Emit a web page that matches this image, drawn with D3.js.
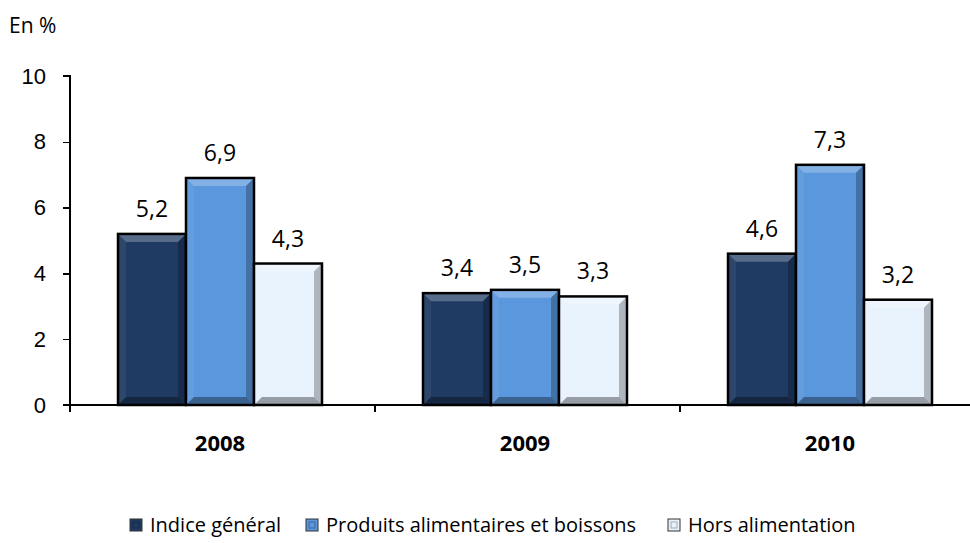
<!DOCTYPE html>
<html>
<head>
<meta charset="utf-8">
<style>
body{margin:0;background:#fff;font-family:"Open Sans","Liberation Sans",sans-serif;}
.axis path,.axis line{fill:none;stroke:#000;stroke-width:1.3;shape-rendering:crispEdges;}
.axis text{font-size:22px;fill:#000;}
.lbl{font-size:23px;fill:#000;}
.unit{font-size:21px;fill:#000;}
.cat{font-size:22.5px;font-weight:bold;fill:#000;}
.leg{font-size:20px;fill:#000;}
</style>
</head>
<body>
<svg id="chart"></svg>
<script src="https://cdn.jsdelivr.net/npm/d3@7"></script>
<script>
var years = ["2008", "2009", "2010"];
var seriesNames = ["Indice général", "Produits alimentaires et boissons", "Hors alimentation"];
var indiceGeneral = [5.2, 3.4, 4.6];
var produitsAlim = [6.9, 3.5, 7.3];
var horsAlim = [4.3, 3.3, 3.2];
var yTicks = [0, 2, 4, 6, 8, 10];
var colors = ["#1f3b63", "#5b97dc", "#e8f2fd"];

var W = 970, H = 543;
var margin = {top: 76, right: 0, bottom: 138, left: 70};
var width = W - margin.left - margin.right;
var height = H - margin.top - margin.bottom;

var svg = d3.select("#chart").attr("width", W).attr("height", H);
var g = svg.append("g").attr("transform", "translate(" + margin.left + "," + margin.top + ")");

var x0 = d3.scaleBand().domain(years).range([0, 915]).paddingInner(0).paddingOuter(0);
var x1 = d3.scaleBand().domain(d3.range(3)).range([48, 252]).padding(0);
var y = d3.scaleLinear().domain([0, 10]).range([height, 0]);

var series = [indiceGeneral, produitsAlim, horsAlim];
var rows = [];
years.forEach(function(yr, i){
  series.forEach(function(s, j){ rows.push({year: yr, s: j, v: s[i]}); });
});

// y axis
g.append("g").attr("class", "axis")
  .call(d3.axisLeft(y).tickValues(yTicks).tickSize(7).tickPadding(17).tickFormat(d3.format("d")))
  .call(function(a){ a.select(".domain").attr("d", "M-7,0H0V" + height); });

svg.append("text").attr("class", "unit").attr("x", 9).attr("y", 33).text("En %");

// bars with bevel
var bev = 8;
var bars = g.selectAll(".bar").data(rows).enter().append("g")
  .attr("transform", function(d){ return "translate(" + (x0(d.year) + x1(d.s)) + "," + y(d.v) + ")"; });

bars.each(function(d){
  var sel = d3.select(this);
  var w = x1.bandwidth(), h = y(0) - y(d.v);
  sel.append("rect").attr("width", w).attr("height", h).attr("fill", colors[d.s]);
  var b = Math.min(bev, h / 2);
  var shades = [
    {p: [[0,0],[w,0],[w-b,b],[b,b]], c: "#fff", o: 0.25},
    {p: [[0,0],[b,b],[b,h-b],[0,h]], c: "#fff", o: 0.06},
    {p: [[w,0],[w,h],[w-b,h-b],[w-b,b]], c: "#000", o: 0.25},
    {p: [[0,h],[b,h-b],[w-b,h-b],[w,h]], c: "#000", o: 0.35}
  ];
  shades.forEach(function(s){
    sel.append("polygon").attr("points", s.p.map(function(q){ return q.join(","); }).join(" "))
      .attr("fill", s.c).attr("fill-opacity", s.o);
  });
  sel.append("rect").attr("width", w).attr("height", h).attr("fill", "none")
    .attr("stroke", "#000").attr("stroke-width", 2.5);
});

// value labels
g.selectAll(".val").data(rows).enter().append("text").attr("class", "lbl")
  .attr("text-anchor", "middle")
  .attr("x", function(d){ return x0(d.year) + x1(d.s) + x1.bandwidth() / 2; })
  .attr("y", function(d){ return y(d.v) - 17; })
  .text(function(d){ return d3.format(".1f")(d.v).replace(".", ","); });

// x axis
var xa = g.append("g").attr("class", "axis").attr("transform", "translate(0," + height + ")");
xa.append("line").attr("x1", -7).attr("x2", width).attr("y1", 0).attr("y2", 0)
  .attr("stroke", "#000").attr("stroke-width", 1.3);
xa.selectAll(".tk").data(years).enter().append("line")
  .attr("x1", function(d){ return x0(d); })
  .attr("x2", function(d){ return x0(d); })
  .attr("y1", 0).attr("y2", 7).attr("stroke", "#000").attr("stroke-width", 1.3);
xa.selectAll(".cat").data(years).enter().append("text").attr("class", "cat")
  .attr("text-anchor", "middle")
  .attr("x", function(d){ return x0(d) + x1(1) + x1.bandwidth() / 2; })
  .attr("y", 46)
  .text(function(d){ return d; });

// legend
var legX = [130, 306, 668];
var leg = svg.selectAll(".legi").data(seriesNames).enter().append("g")
  .attr("transform", function(d, i){ return "translate(" + legX[i] + ",519)"; });
leg.append("rect").attr("width", 12).attr("height", 12).attr("fill", function(d, i){ return colors[i]; })
  .attr("stroke", "#333").attr("stroke-width", 1);
leg.append("rect").attr("x", 3).attr("y", 3).attr("width", 6).attr("height", 6)
  .attr("fill", function(d, i){ return colors[i]; }).attr("stroke", "#000").attr("stroke-opacity", 0.3);
leg.append("text").attr("class", "leg").attr("x", 20).attr("y", 13).text(function(d){ return d; });
</script>
</body>
</html>
